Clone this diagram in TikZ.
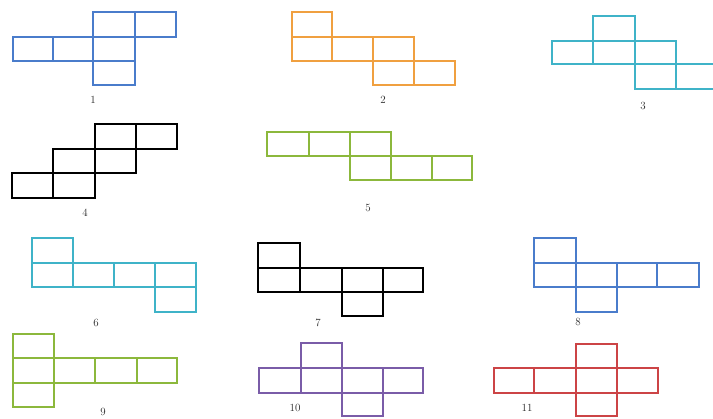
\documentclass[tikz,border=0pt]{standalone}
\definecolor{cblue}{HTML}{4A7CCB}
\definecolor{corange}{HTML}{F0A040}
\definecolor{cteal}{HTML}{3FB3C8}
\definecolor{cgreen}{HTML}{8CB83C}
\definecolor{cpurple}{HTML}{7A5CA8}
\definecolor{cred}{HTML}{CC4446}
\tikzset{
  net/.style={line width=2.6pt, line join=miter},
  lab/.style={font=\fontsize{11}{11}\selectfont, text=black!85, inner sep=0pt}
}
\begin{document}
\begin{tikzpicture}[x=1pt,y=-1pt]
\useasboundingbox (0,0) rectangle (713,419);
\fill[white] (0,0) rectangle (713,419);
\clip (0,0) rectangle (713,419);
% Net 1
\begin{scope}[net, draw=cblue]
\draw (93,12) rectangle (135,37); \draw (135,12) rectangle (176,37);
\draw (13,37) rectangle (53,61); \draw (53,37) rectangle (93,61); \draw (93,37) rectangle (135,61);
\draw (93,61) rectangle (135,85);
\end{scope}
\node[lab] (l1) at (93,100) {1};
% Net 2
\begin{scope}[net, draw=corange]
\draw (292,12) rectangle (332,37);
\draw (292,37) rectangle (332,61); \draw (332,37) rectangle (373,61); \draw (373,37) rectangle (414,61);
\draw (373,61) rectangle (414,85); \draw (414,61) rectangle (455,85);
\end{scope}
\node[lab] (l2) at (383,100) {2};
% Net 3
\begin{scope}[net, draw=cteal]
\draw (593,16) rectangle (635,41);
\draw (552,41) rectangle (593,64); \draw (593,41) rectangle (635,64); \draw (635,41) rectangle (676,64);
\draw (635,64) rectangle (676,89); \draw (676,64) rectangle (718,89);
\end{scope}
\node[lab] (l3) at (643,106) {3};
% Net 4
\begin{scope}[net, draw=black]
\draw (95,124) rectangle (136,149); \draw (136,124) rectangle (177,149);
\draw (53,149) rectangle (95,173); \draw (95,149) rectangle (136,173);
\draw (12,173) rectangle (53,198); \draw (53,173) rectangle (95,198);
\end{scope}
\node[lab] (l4) at (85,213) {4};
% Net 5
\begin{scope}[net, draw=cgreen]
\draw (267,132) rectangle (309,156); \draw (309,132) rectangle (350,156); \draw (350,132) rectangle (391,156);
\draw (350,156) rectangle (391,180); \draw (391,156) rectangle (432,180); \draw (432,156) rectangle (472,180);
\end{scope}
\node[lab] (l5) at (368,208) {5};
% Net 6
\begin{scope}[net, draw=cteal]
\draw (32,238) rectangle (73,263);
\draw (32,263) rectangle (73,287); \draw (73,263) rectangle (114,287); \draw (114,263) rectangle (155,287); \draw (155,263) rectangle (196,287);
\draw (155,287) rectangle (196,312);
\end{scope}
\node[lab] (l6) at (96,323) {6};
% Net 7
\begin{scope}[net, draw=black]
\draw (258,243) rectangle (300,268);
\draw (258,268) rectangle (300,292); \draw (300,268) rectangle (342,292); \draw (342,268) rectangle (383,292); \draw (383,268) rectangle (423,292);
\draw (342,292) rectangle (383,316);
\end{scope}
\node[lab] (l7) at (318,323) {7};
% Net 8
\begin{scope}[net, draw=cblue]
\draw (534,238) rectangle (576,263);
\draw (534,263) rectangle (576,287); \draw (576,263) rectangle (617,287); \draw (617,263) rectangle (657,287); \draw (657,263) rectangle (699,287);
\draw (576,287) rectangle (617,312);
\end{scope}
\node[lab] (l8) at (578,322) {8};
% Net 9
\begin{scope}[net, draw=cgreen]
\draw (13,334) rectangle (54,358); \draw (13,358) rectangle (54,383); \draw (13,383) rectangle (54,407);
\draw (54,358) rectangle (95,383); \draw (95,358) rectangle (137,383); \draw (137,358) rectangle (177,383);
\end{scope}
\node[lab] (l9) at (103,412) {9};
% Net 10
\begin{scope}[net, draw=cpurple]
\draw (301,343) rectangle (342,368);
\draw (259,368) rectangle (301,393); \draw (301,368) rectangle (342,393); \draw (342,368) rectangle (383,393); \draw (383,368) rectangle (423,393);
\draw (342,393) rectangle (383,416);
\end{scope}
\node[lab] (l10) at (295,408) {10};
% Net 11
\begin{scope}[net, draw=cred]
\draw (576,344) rectangle (617,368); \draw (576,368) rectangle (617,393); \draw (576,393) rectangle (617,416);
\draw (494,368) rectangle (534,393); \draw (534,368) rectangle (576,393); \draw (617,368) rectangle (658,393);
\end{scope}
\node[lab] (l11) at (527,408) {11};
\end{tikzpicture}
\end{document}
